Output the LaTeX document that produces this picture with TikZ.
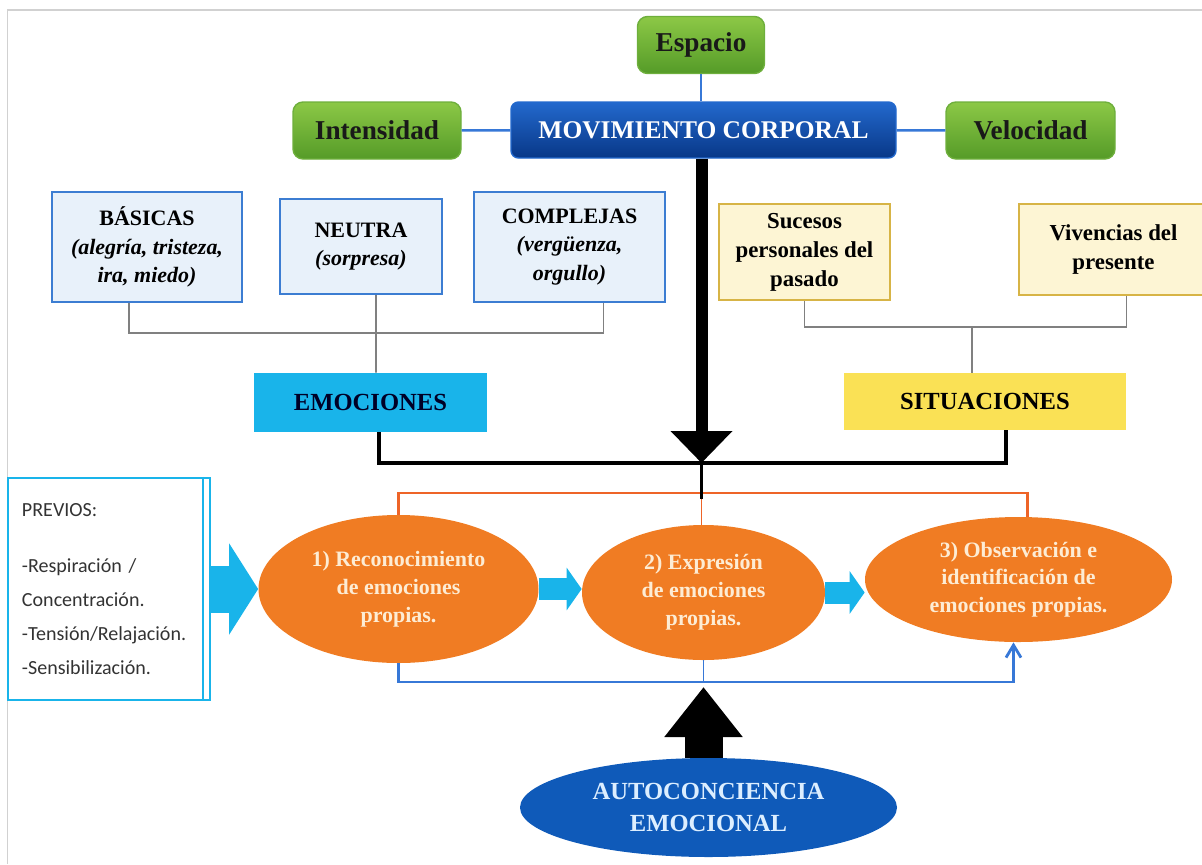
\documentclass[tikz,border=0pt]{standalone}
\usepackage{fontspec}
\setmainfont{Liberation Serif}
\newfontfamily\calibfont{Carlito}
\usepackage{tikz}
\usetikzlibrary{arrows.meta,positioning,shapes.geometric,calc}
\definecolor{grnL}{RGB}{140,200,70}
\definecolor{grnD}{RGB}{85,155,40}
\definecolor{grnB}{RGB}{110,175,60}
\definecolor{movL}{RGB}{35,105,205}
\definecolor{movD}{RGB}{8,55,135}
\definecolor{boxB}{RGB}{60,125,210}
\definecolor{boxF}{RGB}{232,241,250}
\definecolor{sucB}{RGB}{215,180,70}
\definecolor{sucF}{RGB}{253,245,212}
\definecolor{cyanF}{RGB}{25,180,234}
\definecolor{yelF}{RGB}{250,225,85}
\definecolor{oraF}{RGB}{240,124,35}
\definecolor{oraT}{RGB}{253,236,212}
\definecolor{oraL}{RGB}{238,100,40}
\definecolor{bluL}{RGB}{55,120,215}
\definecolor{autF}{RGB}{15,90,185}
\definecolor{autT}{RGB}{220,238,255}

\begin{document}
\begin{tikzpicture}[
  grn/.style={rectangle, rounded corners=2mm, draw=grnB, thick, top color=grnL, bottom color=grnD,
              font=\fontsize{15.5}{18}\selectfont\bfseries, text=black!90, minimum height=1.14cm, inner sep=2pt},
  movb/.style={rectangle, rounded corners=1.5mm, draw=movL, thick, top color=movL, bottom color=movD,
              font=\fontsize{14.5}{17}\selectfont\bfseries, text=white, minimum height=1.12cm, inner sep=2pt},
  emob/.style={rectangle, draw=boxB, line width=1.3pt, fill=boxF, align=center,
              font=\fontsize{12.5}{16}\selectfont\bfseries, inner sep=2pt},
  sucb/.style={rectangle, draw=sucB, line width=1.3pt, fill=sucF, align=center,
              font=\fontsize{13}{16.5}\selectfont\bfseries, inner sep=2pt},
  titb/.style={rectangle, font=\fontsize{14}{17}\selectfont\bfseries, inner sep=2pt},
  fase/.style={ellipse, fill=oraF, text=oraT, align=center, inner sep=0pt,
              font=\fontsize{12.5}{16}\selectfont\bfseries},
  autb/.style={ellipse, fill=autF, text=autT, align=center, inner sep=0pt,
              font=\fontsize{14}{18}\selectfont\bfseries},
  prevb/.style={rectangle, draw=cyanF, line width=1.3pt, fill=white, align=left, text=black!80,
              font=\calibfont\fontsize{11.4}{19.3}\selectfont, inner xsep=0.28cm},
  gry/.style={draw=black!50, line width=0.9pt},
  blk/.style={draw=black, line width=2.2pt},
  orl/.style={draw=oraL, line width=1.6pt},
  bll/.style={draw=bluL, line width=1.6pt},
  lnk/.style={draw=bluL, line width=1.4pt},
  bigdown/.style={draw=black, line width=0.24cm, -{Triangle[width=1.2cm,length=0.64cm]}},
  bigup/.style={draw=black, line width=0.76cm, -{Triangle[width=1.5cm,length=1cm]}},
  cybig/.style={draw=cyanF, line width=0.94cm, -{Triangle[width=1.8cm,length=0.58cm]}},
  cysm/.style={draw=cyanF, line width=0.44cm, -{Triangle[width=0.84cm,length=0.3cm]}}]
  \useasboundingbox (0,0) rectangle (24.04,-17.28);
  \draw[black!18, line width=0.8pt] (0.15,-17.28) |- (24.04,-0.2);

  % movimiento corporal
  \node[grn, minimum width=2.54cm] (esp) at (14.02,-0.90) {Espacio};
  \node[movb, minimum width=7.7cm] (mov) at (14.07,-2.60) {MOVIMIENTO CORPORAL};
  \node[grn, minimum width=3.36cm] (int) at (7.54,-2.61) {Intensidad};
  \node[grn, minimum width=3.38cm] (vel) at (20.61,-2.61) {Velocidad};
  \draw[lnk] (int) -- (mov);
  \draw[lnk] (mov) -- (vel);
  \draw[lnk] (esp.south) -- (esp.south |- mov.north);

  % emociones
  \node[emob, minimum width=3.8cm, minimum height=2.2cm] (bas) at (2.94,-4.94)
    {BÁSICAS\\\textit{(alegría, tristeza,}\\\textit{ira, miedo)}};
  \node[emob, minimum width=3.24cm, minimum height=1.9cm] (neu) at (7.22,-4.93)
    {NEUTRA\\\textit{(sorpresa)}};
  \node[emob, minimum width=3.82cm, minimum height=2.2cm] (comp) at (11.39,-4.94)
    {COMPLEJAS\\\textit{(vergüenza,}\\\textit{orgullo)}};
  \node[titb, fill=cyanF, text=black!85!blue, minimum width=4.66cm, minimum height=1.18cm] (emo) at (7.41,-8.05) {EMOCIONES};
  \coordinate (gjL) at (7.52,-6.66);
  \draw[gry] ([xshift=-0.36cm]bas.south) |- (gjL) -| ([xshift=0.68cm]comp.south);
  \draw[gry] ([xshift=0.3cm]neu.south) -- (gjL) -- (gjL |- emo.north);

  % situaciones
  \node[sucb, minimum width=3.42cm, minimum height=1.92cm] (suc) at (16.09,-5.04)
    {Sucesos\\personales del\\pasado};
  \node[sucb, minimum width=3.78cm, minimum height=1.82cm] (viv) at (22.27,-4.99)
    {Vivencias del\\presente};
  \node[titb, fill=yelF, minimum width=5.64cm, minimum height=1.14cm] (sit) at (19.70,-8.03) {SITUACIONES};
  \coordinate (gjR) at (19.44,-6.54);
  \draw[gry] (suc.south) |- (gjR) -| ([xshift=0.26cm]viv.south);
  \draw[gry] (gjR) -- (gjR |- sit.north);

  % fases
  \node[fase, minimum width=5.6cm, minimum height=2.96cm] (e1) at (7.97,-11.78)
    {1) Reconocimiento\\de emociones\\propias.};
  \node[fase, minimum width=4.86cm, minimum height=2.7cm] (e2) at (14.07,-11.85)
    {2) Expresión\\de emociones\\propias.};
  \node[fase, minimum width=6.14cm, minimum height=2.5cm, font=\fontsize{12.5}{15.5}\selectfont\bfseries] (e3) at (20.37,-11.59)
    {3) Observación e\\identificación de\\emociones propias.};
  \node[prevb, text width=3.48cm, minimum height=4.44cm] (prev) at (2.18,-11.78)
    {PREVIOS:\\[13pt]-Respiración /\\Concentración.\\-Tensión/Relajación.\\-Sensibilización.};
  \draw[draw=cyanF, line width=1.3pt] ([xshift=-0.16cm]prev.north east) -- ([xshift=-0.16cm]prev.south east);
  \node[autb, minimum width=7.54cm, minimum height=1.98cm] (aut) at (14.17,-16.15)
    {AUTOCONCIENCIA\\EMOCIONAL};

  % conexiones
  \coordinate (join) at (14.03,-9.26);
  \coordinate (ojn) at (14.03,-9.86);
  \coordinate (bjn) at (14.07,-13.64);
  \draw[orl] (e1.north) |- (ojn) -| ([xshift=0.18cm]e3.north);
  \draw[orl, line width=0.8pt] (ojn) -- (ojn |- e2.north);
  \draw[blk] ([xshift=0.17cm]emo.south) |- (join) -| ([xshift=0.42cm]sit.south);
  \draw[blk] (join) -- ([yshift=-0.12cm]ojn);
  \draw[bigdown] (join |- mov.south) -- (join);
  \draw[bll, -{Straight Barb[length=2.5mm,width=3mm]}] (e1.south) |- (bjn) -| ([xshift=-0.1cm]e3.south);
  \draw[bll, line width=0.6pt] (e2.south) -- (bjn);
  \draw[bigup] (bjn |- aut.north) -- ([yshift=-0.1cm]bjn);
  \draw[cybig] (prev.east) -- (e1.west);
  \draw[cysm] (e1.east) -- (e1.east -| e2.west);
  \draw[cysm] (e2.east) -- (e2.east -| e3.west);
\end{tikzpicture}
\end{document}
